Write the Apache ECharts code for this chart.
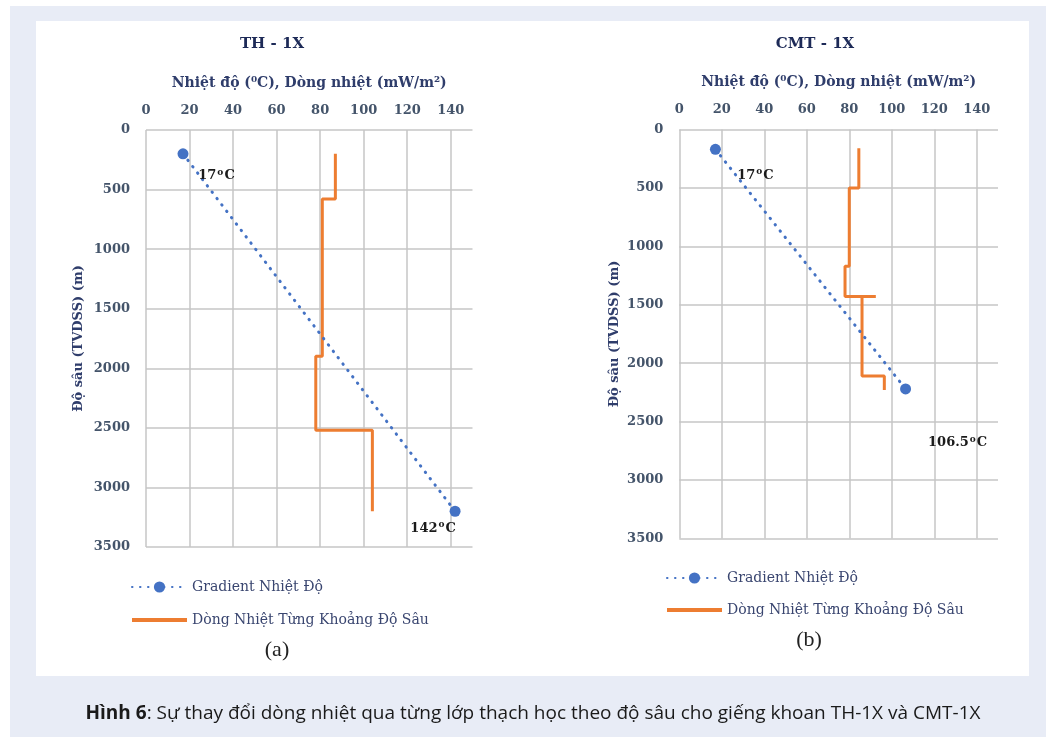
<!DOCTYPE html>
<html><head><meta charset="utf-8">
<script src="https://cdn.jsdelivr.net/npm/echarts@6/dist/echarts.min.js"></script>
<style>
html,body{margin:0;padding:0;background:#fff}
#wrap{position:relative;width:1058px;height:737px;overflow:hidden}
#bg1{position:absolute;left:10px;top:6px;width:1036px;height:731px;background:#e8ecf6}
#bg2{position:absolute;left:36px;top:21px;width:993px;height:655px;background:#fff}
#c{position:absolute;left:0;top:0;width:1058px;height:737px}
</style>
</head><body><div id="wrap"><div id="bg1"></div><div id="bg2"></div><div id="c"></div></div>
<script>
// ---- data ----
const chartTitles = ['TH - 1X', 'CMT - 1X'];
const subLabels = ['(a)', '(b)'];
const seriesNames = ['Gradient Nhiệt Độ', 'Dòng Nhiệt Từng Khoảng Độ Sâu'];
const xAxisTitle = 'Nhiệt độ (⁰C), Dòng nhiệt (mW/m²)';
const yAxisTitle = 'Độ sâu (TVDSS) (m)';
const xTicks = [0, 20, 40, 60, 80, 100, 120, 140];
const xMax = 150;
const yTicks = [0, 500, 1000, 1500, 2000, 2500, 3000, 3500];
const gradientTH = [[17, 200], [142, 3200]];
const heatFlowTH = [[87, 200], [87, 580], [81, 580], [81, 1900], [78, 1900], [78, 2520], [104, 2520], [104, 3200]];
const gradientCMT = [[17, 170], [106.5, 2220]];
const heatFlowCMT = [[84.5, 160], [84.5, 500], [80, 500], [80, 1170], [78, 1170], [78, 1430], [92.5, 1430], [86, 1430], [86, 2110], [96.5, 2110], [96.5, 2230]];
const captionBold = 'Hình 6';
const captionText = ': Sự thay đổi dòng nhiệt qua từng lớp thạch học theo độ sâu cho giếng khoan TH-1X và CMT-1X';

// ---- styles ----
const SERIF = '"DejaVu Serif", serif';
const BLUE = '#4472c4', ORANGE = '#ed7d31';
const labelColor = '#44546a', nameColor = '#2f3d6b', titleColor = '#1d2a57';
const grids = [
  {left: 146, top: 130, width: 326.5, height: 417},
  {left: 679.3, top: 129.5, width: 318.7, height: 409}
];
const labelOffsets = [
  [[33.5, 22], [-22, 17]],
  [[40, 26], [52, 54]]
];

function xAxisFor(i) {
  return {
    gridIndex: i, type: 'value', position: 'top',
    min: xTicks[0], max: xMax, interval: xTicks[1] - xTicks[0],
    name: xAxisTitle, nameLocation: 'middle', nameGap: 40,
    nameTextStyle: {fontFamily: SERIF, fontWeight: 'bold', fontSize: 14, color: nameColor},
    axisLine: {show: false}, axisTick: {show: false},
    axisLabel: {margin: 13, fontFamily: SERIF, fontWeight: 'bold', fontSize: 13, color: labelColor, showMaxLabel: false,
      formatter: v => String(v)},
    splitLine: {show: true, showMinLine: true, showMaxLine: false, lineStyle: {color: '#c6c6c6', width: 1.5}}
  };
}
function yAxisFor(i, gap) {
  return {
    gridIndex: i, type: 'value', inverse: true,
    min: yTicks[0], max: yTicks[yTicks.length - 1], interval: yTicks[1] - yTicks[0],
    name: yAxisTitle, nameLocation: 'middle', nameGap: gap, nameRotate: 90,
    nameTextStyle: {fontFamily: SERIF, fontWeight: 'bold', fontSize: 13, color: nameColor},
    axisLine: {show: false}, axisTick: {show: false},
    axisLabel: {margin: 16, fontFamily: SERIF, fontWeight: 'bold', fontSize: 13, color: labelColor,
      formatter: v => String(v)},
    splitLine: {show: true, showMinLine: true, showMaxLine: true, lineStyle: {color: '#c6c6c6', width: 1.5}}
  };
}
const labelRich = {
  a: {fontFamily: SERIF, fontWeight: 'bold', fontSize: 13, color: '#1a1a1a'},
  o: {fontFamily: SERIF, fontWeight: 'bold', fontSize: 9, color: '#1a1a1a', padding: [0, 1, 7, 1]}
};
function gradientSeries(i, data) {
  return {
    name: seriesNames[0], type: 'line', xAxisIndex: i, yAxisIndex: i, z: 4,
    symbol: 'circle', symbolSize: 11, showSymbol: true,
    itemStyle: {color: BLUE},
    lineStyle: {color: BLUE, width: 3, type: [0.5, 7.5], cap: 'round'},
    data: data.map((d, k) => ({
      value: d,
      label: {
        show: true, position: 'inside', offset: labelOffsets[i][k],
        formatter: p => '{a|' + p.value[0] + '}{o|o}{a|C}', rich: labelRich
      }
    })),
    animation: false
  };
}
function flowSeries(i, data) {
  return {
    name: seriesNames[1], type: 'line', xAxisIndex: i, yAxisIndex: i, z: 3,
    symbol: 'none', showSymbol: false,
    itemStyle: {color: ORANGE},
    lineStyle: {color: ORANGE, width: 3},
    data: data, animation: false
  };
}
function legendFor(left, top, gap) {
  return {
    left: left, top: top, orient: 'vertical', itemWidth: 55, itemHeight: 14, itemGap: gap,
    data: [
      {name: seriesNames[0]},
      {name: seriesNames[1], itemStyle: {opacity: 0}, lineStyle: {width: 4}}
    ],
    selectedMode: false,
    textStyle: {fontFamily: SERIF, fontSize: 14, color: '#3a4670', lineHeight: 14}
  };
}
function textEl(x, y, text, font, color) {
  return {type: 'text', x: x, y: y, style: {text: text, font: font, fill: color, textAlign: 'center', textVerticalAlign: 'middle'}};
}

const chart = echarts.init(document.getElementById('c'), null, {renderer: 'canvas'});
chart.setOption({
  backgroundColor: 'transparent',
  animation: false,
  grid: grids,
  xAxis: [xAxisFor(0), xAxisFor(1)],
  yAxis: [yAxisFor(0, 61), yAxisFor(1, 58)],
  legend: [legendFor(125, 575, 19), legendFor(660, 566, 18)],
  series: [
    gradientSeries(0, gradientTH), flowSeries(0, heatFlowTH),
    gradientSeries(1, gradientCMT), flowSeries(1, heatFlowCMT)
  ],
  graphic: [
    textEl(272, 44, chartTitles[0], 'bold 15px "DejaVu Serif"', titleColor),
    textEl(815, 44, chartTitles[1], 'bold 15px "DejaVu Serif"', titleColor),
    textEl(277, 650, subLabels[0], '22px "Liberation Serif"', '#222'),
    textEl(809, 640, subLabels[1], '22px "Liberation Serif"', '#222'),
    {type: 'text', x: 533, y: 714, style: {
      text: '{b|' + captionBold + '}{r|' + captionText + '}',
      textAlign: 'center', textVerticalAlign: 'middle',
      rich: {
        b: {font: 'bold 19px "Open Sans"', fill: '#1a1a1a'},
        r: {font: '19px "Open Sans"', fill: '#1a1a1a'}
      }
    }}
  ]
});
</script></body></html>
